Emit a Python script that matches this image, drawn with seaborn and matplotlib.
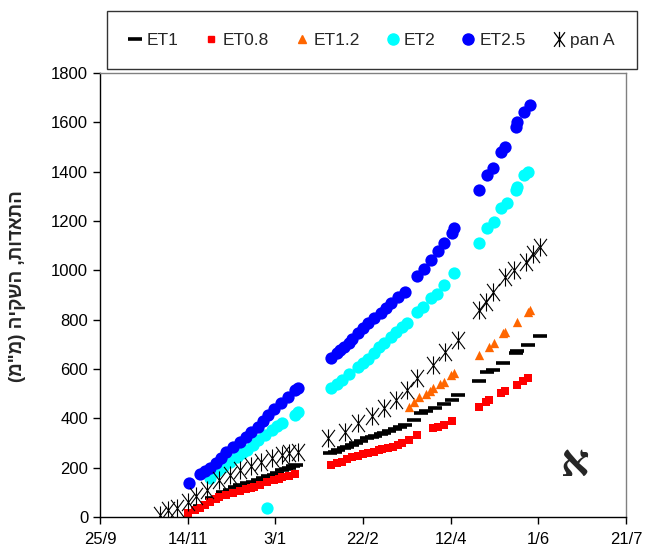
import numpy as np
import pandas as pd
import matplotlib
matplotlib.use('Agg')
import matplotlib.pyplot as plt
from matplotlib.path import Path
from matplotlib.lines import Line2D
import seaborn as sns

# x axis: days counted from 25/9
tick_days = [0, 50, 100, 150, 200, 250, 300]
tick_labels = ['25/9', '14/11', '3/1', '22/2', '12/4', '1/6', '21/7']

# ET1 (black dash)
et1_day = [57, 64, 70, 74, 77, 80, 84, 87, 90, 93, 96, 99, 101, 104, 106, 108, 110, 112,
           131, 134, 136, 139, 141, 144, 146, 149, 152, 155, 157, 160, 162, 165, 168, 171, 174,
           179, 183, 186, 191, 196, 201, 204,
           216, 221, 224, 230, 237, 238, 244, 251]
et1_val = [45, 76, 100, 110, 120, 128, 138, 144, 150, 158, 165, 172, 178, 190, 195, 200, 205, 211,
           259, 265, 270, 278, 284, 292, 300, 310, 320, 325, 330, 336, 341, 348, 356, 364, 373,
           395, 422, 430, 442, 458, 474, 495,
           551, 588, 596, 624, 665, 673, 697, 734]

# ET0.8 (red squares)
et08_day = [50, 54, 57, 60, 63, 66, 68, 72, 76, 80, 83, 86, 88, 91, 95, 99, 102, 104, 108, 111,
            132, 135, 138, 141, 144, 147, 150, 153, 156, 159, 161, 164, 167, 170, 172, 176,
            181, 190, 193, 196, 201,
            216, 220, 222, 229, 231, 238, 241, 244]
et08_val = [16, 28, 38, 50, 61, 72, 81, 90, 97, 105, 112, 118, 122, 130, 140, 150, 156, 162, 168, 174,
            211, 218, 225, 234, 243, 249, 255, 260, 264, 270, 276, 280, 284, 292, 300, 312,
            332, 361, 366, 373, 389,
            446, 465, 474, 503, 510, 535, 550, 563]

# ET1.2 (orange triangles)
et12_day = [176, 179, 182, 186, 188, 190, 194, 196, 200, 202,
            216, 222, 225, 230, 231, 238, 244, 245]
et12_val = [446, 465, 487, 500, 510, 523, 540, 547, 575, 584,
            657, 689, 705, 746, 750, 791, 831, 839]

# ET2 (cyan circles)
et2_day = [63, 67, 70, 74, 78, 81, 84, 87, 90, 94, 98, 101, 104, 111, 113, 95,
           132, 135, 138, 142, 147, 150, 153, 156, 159, 162, 166, 169, 172, 175, 181, 184,
           189, 192, 196, 202,
           216, 221, 225, 229, 232, 237, 238, 242, 244]
et2_val = [160, 185, 203, 225, 243, 258, 272, 292, 312, 333, 353, 368, 381, 415, 426, 36,
           523, 540, 556, 580, 610, 625, 640, 665, 689, 705, 730, 750, 770, 786, 831, 850,
           888, 905, 940, 989,
           1111, 1172, 1196, 1253, 1273, 1326, 1338, 1386, 1399]

# ET2.5 (blue circles)
et25_day = [51, 57, 60, 63, 66, 69, 72, 76, 80, 83, 86, 90, 93, 96, 99, 103, 107, 111, 113,
            132, 135, 137, 139, 142, 144, 147, 150, 153, 156, 160, 163, 166, 170, 174,
            181, 185, 189, 193, 196, 201, 202,
            216, 221, 224, 229, 231, 237, 238, 242, 245]
et25_val = [138, 175, 188, 199, 220, 239, 262, 284, 305, 324, 345, 365, 390, 414, 438, 462, 485, 515, 525,
            645, 665, 678, 689, 705, 720, 746, 765, 786, 806, 827, 846, 868, 890, 912,
            977, 1005, 1042, 1080, 1110, 1150, 1172,
            1326, 1386, 1415, 1480, 1500, 1581, 1601, 1642, 1670]

# pan A (stars)
pan_day = [34, 39, 44, 50, 55, 61, 68, 74, 80, 86, 92, 98, 104, 108, 113,
           130, 140, 147, 155, 162, 169, 175, 181, 190, 197, 204,
           216, 220, 224, 231, 236, 243, 247, 251]
pan_val = [8, 28, 36, 62, 85, 110, 150, 170, 190, 205, 222, 238, 252, 260, 264,
           320, 345, 380, 410, 440, 475, 515, 563, 616, 669, 718,
           839, 870, 912, 973, 1000, 1034, 1065, 1095]

ylabel_he = 'התאדות, השקיה (מ"מ)'


def visual_rtl(s):
    # matplotlib has no bidi support: reverse and mirror brackets
    swap = {'(': ')', ')': '('}
    return ''.join(swap.get(ch, ch) for ch in s[::-1])


sns.set_style('ticks')
plt.rcParams['font.family'] = ['Liberation Sans', 'DejaVu Sans']

star = Path([(-0.75, -1), (0.75, 1), (-0.75, 1), (0.75, -1), (0, -1.05), (0, 1.05)],
            [Path.MOVETO, Path.LINETO] * 3)

fig = plt.figure(figsize=(6.47, 5.56), dpi=100)
ax = fig.add_axes([0.1546, 0.0701, 0.8129, 0.7986])

series = [
    ('ET1', et1_day, et1_val, dict(marker='_', color='black', s=100, linewidth=2.6)),
    ('ET0.8', et08_day, et08_val, dict(marker='s', color='#FF0000', s=26, linewidth=0)),
    ('ET1.2', et12_day, et12_val, dict(marker='^', color='#FF6600', s=45, linewidth=0)),
    ('ET2', et2_day, et2_val, dict(marker='o', color='#00FFFF', s=78, linewidth=0)),
    ('ET2.5', et25_day, et25_val, dict(marker='o', color='#0000FF', s=78, linewidth=0)),
    ('pan A', pan_day, pan_val, dict(marker=star, color='black', edgecolor='black', s=170, linewidth=0.8)),
]

for name, d, v, kw in series:
    df = pd.DataFrame({'day': d, 'value': v})
    sns.scatterplot(data=df, x='day', y='value', ax=ax, legend=False, **kw)

ax.set_xlim(0, 300)
ax.set_ylim(0, 1800)
ax.set_xticks(tick_days)
ax.set_xticklabels(tick_labels)
ax.set_yticks(np.arange(0, 1801, 200))
ax.tick_params(axis='both', direction='out', length=5, width=1, labelsize=12, colors='black')
ax.tick_params(axis='x', pad=6)
ax.set_xlabel('')
ax.set_ylabel(visual_rtl(ylabel_he), fontsize=13.5, fontweight='bold')
ax.yaxis.set_label_coords(-0.14, 0.52)

for side in ['left', 'bottom']:
    ax.spines[side].set_color('black')
    ax.spines[side].set_linewidth(1)
for side in ['top', 'right']:
    ax.spines[side].set_visible(True)
    ax.spines[side].set_color('#808080')
    ax.spines[side].set_linewidth(1)

ax.text(0.903, 0.117, 'א', transform=ax.transAxes, fontsize=32, fontweight='bold',
        ha='center', va='center', family=['Liberation Serif', 'DejaVu Sans'])

handles = [
    Line2D([], [], linestyle='none', marker='_', color='black', markersize=10, markeredgewidth=2.6),
    Line2D([], [], linestyle='none', marker='s', color='#FF0000', markersize=5),
    Line2D([], [], linestyle='none', marker='^', color='#FF6600', markersize=6),
    Line2D([], [], linestyle='none', marker='o', color='#00FFFF', markersize=8),
    Line2D([], [], linestyle='none', marker='o', color='#0000FF', markersize=8),
    Line2D([], [], linestyle='none', marker=star, color='black', markersize=11,
           markerfacecolor='none', markeredgewidth=0.9),
]
leg = fig.legend(handles, [s[0] for s in series], loc='center',
                 bbox_to_anchor=(0.165, 0.874, 0.819, 0.108), mode='expand', ncol=6,
                 frameon=True, fancybox=False, edgecolor='black', borderpad=1.25,
                 handlelength=0.8, handletextpad=0.25, columnspacing=1.0, fontsize=12.5,
                 borderaxespad=0)
leg.get_frame().set_linewidth(1)

fig.savefig('out.png', dpi=100)
